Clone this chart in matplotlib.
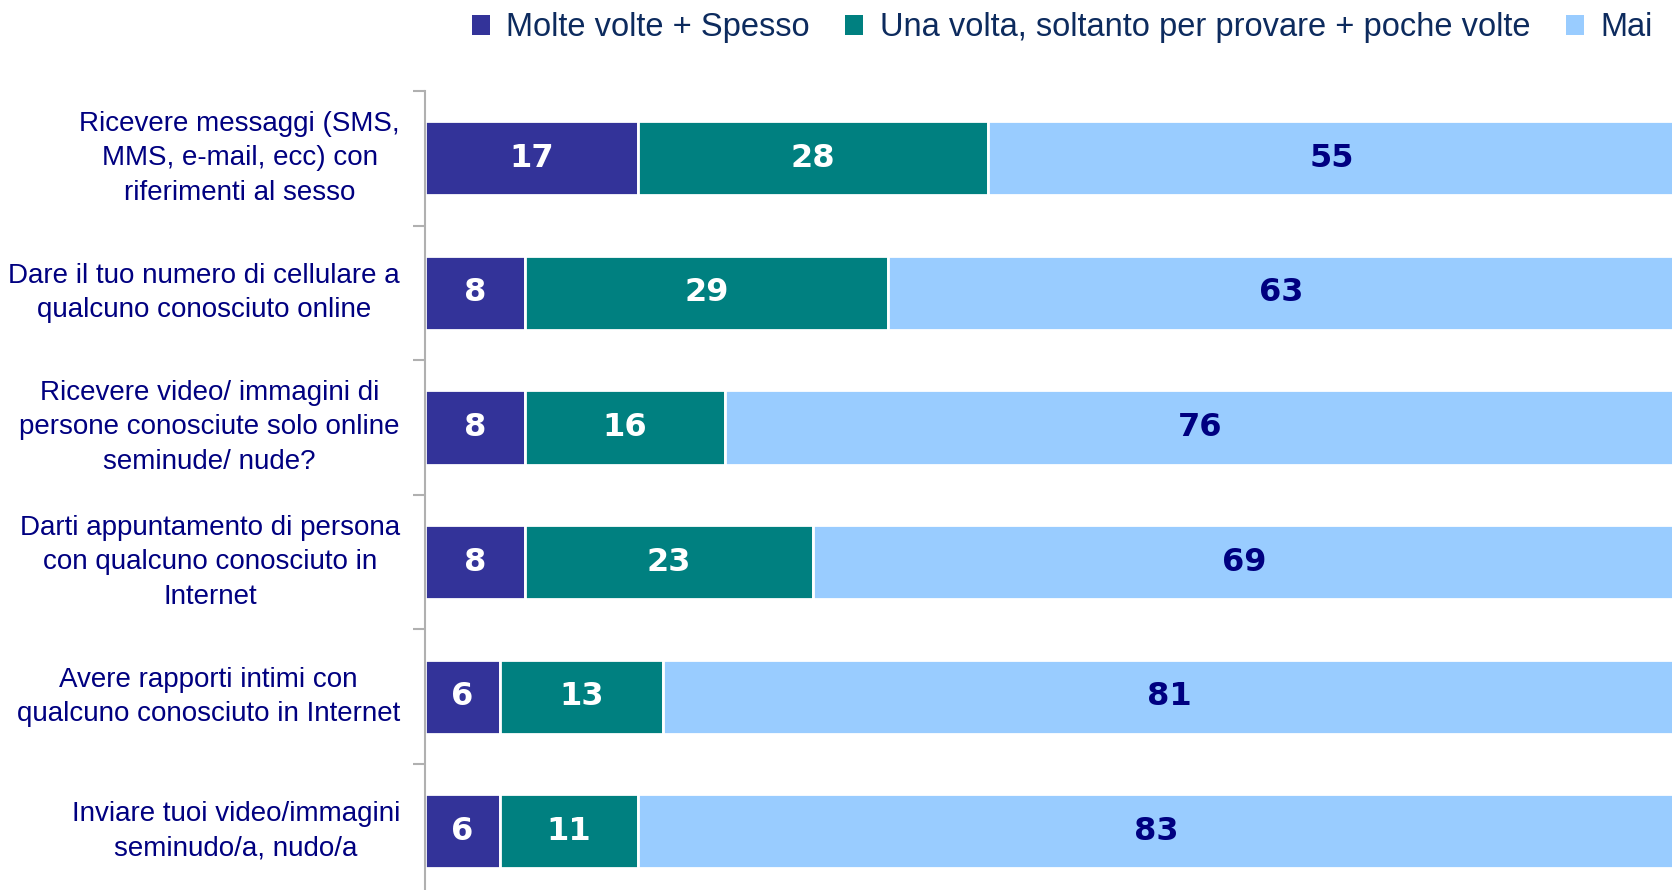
import numpy as np
import matplotlib.pyplot as plt
from matplotlib.patches import Patch

# dati
categorie = ['Ricevere messaggi (SMS,\nMMS, e-mail, ecc) con\nriferimenti al sesso',
             'Dare il tuo numero di cellulare a\nqualcuno conosciuto online',
             'Ricevere video/ immagini di\npersone conosciute solo online\nseminude/ nude?',
             'Darti appuntamento di persona\ncon qualcuno conosciuto in\nInternet',
             'Avere rapporti intimi con\nqualcuno conosciuto in Internet',
             'Inviare tuoi video/immagini\nseminudo/a, nudo/a']
serie = ['Molte volte + Spesso', 'Una volta, soltanto per provare + poche volte', 'Mai']
spesso = [17, 8, 8, 8, 6, 6]
poche = [28, 29, 16, 23, 13, 11]
mai = [55, 63, 76, 69, 81, 83]

colori = ['#333399', '#008080', '#99ccff']
col_testo = ['white', 'white', '#000080']

fig = plt.figure(figsize=(16.72, 8.9), dpi=100)
ax = fig.add_axes([425/1672, -0.0097, 1 - 425/1672 + 0.002, 0.8978 + 0.0097])

y = np.arange(len(categorie))
left = np.zeros(len(categorie))
for vals, c, tc in zip([spesso, poche, mai], colori, col_testo):
    vals = np.array(vals)
    ax.barh(y, vals, left=left, height=0.55, color=c, edgecolor='white', linewidth=2)
    for yi, l, v in zip(y, left, vals):
        ax.text(l + v/2, yi, str(v), ha='center', va='center', color=tc,
                fontsize=23, fontweight='bold', family='DejaVu Sans')
    left += vals

ax.set_xlim(0, 100)
ax.set_ylim(len(categorie) - 0.5, -0.5)
ax.set_xticks([])
ax.set_yticks(y)
ax.set_yticklabels([])
for yi, t in zip(y, categorie):
    ax.text(-2.0, yi, t, ha='right', va='center', multialignment='center',
            fontsize=20, color='#000080', family='Liberation Sans', linespacing=1.42)
ax.tick_params(axis='y', which='major', length=0)
ax.set_yticks(np.arange(-0.5, len(categorie), 1), minor=True)
ax.tick_params(axis='y', which='minor', length=9, color='#b0b0b0', width=1.5)
for s in ['top', 'right', 'bottom']:
    ax.spines[s].set_visible(False)
ax.spines['left'].set_color('#b0b0b0')
ax.spines['left'].set_linewidth(1.5)

handles = [Patch(facecolor=c, edgecolor='none') for c in colori]
leg = fig.legend(handles, serie, loc='upper right', bbox_to_anchor=(0.9885, 0.986), ncol=3,
                 frameon=False, handlelength=0.55, handleheight=0.55, handletextpad=0.5,
                 columnspacing=1.1, borderpad=0, borderaxespad=0,
                 prop={'family': 'Liberation Sans', 'size': 23.5})
for t in leg.get_texts():
    t.set_color('#0d2b5e')

fig.savefig('out.png', dpi=100)
